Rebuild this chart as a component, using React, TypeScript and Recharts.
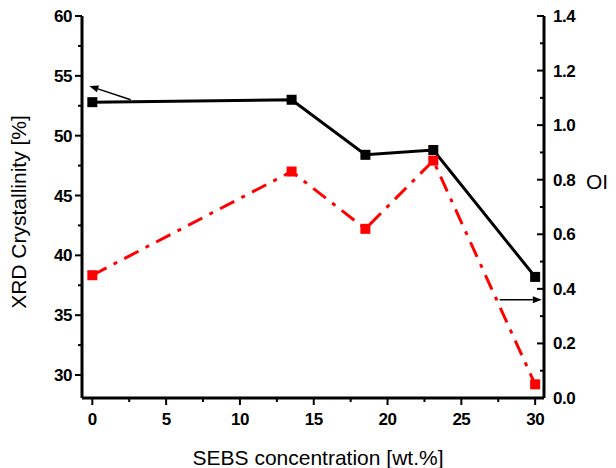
import { LineChart, Line, XAxis, YAxis, ReferenceLine } from "recharts";

// SEBS content [wt.%]
const sebs = [0, 13.5, 18.5, 23.1, 30];
// XRD crystallinity [%] (left axis)
const crystallinity = [52.8, 53.0, 48.4, 48.8, 38.2];
// OI (right axis)
const oi = [0.45, 0.83, 0.62, 0.87, 0.05];

const xTicks = [0, 2.5, 5, 7.5, 10, 12.5, 15, 17.5, 20, 22.5, 25, 27.5, 30];
const leftTicks = [30, 32.5, 35, 37.5, 40, 42.5, 45, 47.5, 50, 52.5, 55, 57.5, 60];
const rightTicks = [0, 0.1, 0.2, 0.3, 0.4, 0.5, 0.6, 0.7, 0.8, 0.9, 1.0, 1.1, 1.2, 1.3, 1.4];

const data = sebs.map((x, i) => ({ x, xrd: crystallinity[i], oi: oi[i] }));

const tickFont = {
  fontFamily: "'Liberation Sans', Arial, sans-serif",
  fontWeight: 700,
  fontSize: 17,
  letterSpacing: -0.5,
  fill: "#000",
};

const near = (v: number, step: number) => Math.abs(v / step - Math.round(v / step)) < 1e-6;

function BottomTick({ x, y, payload }: any) {
  const major = near(payload.value, 5);
  return (
    <g>
      <line x1={x} x2={x} y1={y} y2={y + (major ? 7 : 4)} stroke="#000" strokeWidth={2} />
      {major && (
        <text x={x} y={y + 27} textAnchor="middle" {...tickFont}>
          {payload.value}
        </text>
      )}
    </g>
  );
}

function LeftTick({ x, y, payload }: any) {
  const major = near(payload.value, 5);
  return (
    <g>
      <line x1={x - (major ? 7 : 4)} x2={x} y1={y} y2={y} stroke="#000" strokeWidth={2} />
      {major && (
        <text x={x - 10} y={y + 6} textAnchor="end" {...tickFont}>
          {payload.value}
        </text>
      )}
    </g>
  );
}

function RightTick({ x, y, payload }: any) {
  const major = near(payload.value, 0.2);
  return (
    <g>
      <line x1={x - (major ? 7 : 4)} x2={x} y1={y} y2={y} stroke="#000" strokeWidth={2} />
      {major && (
        <text x={x + 9} y={y + 6} textAnchor="start" {...tickFont}>
          {payload.value.toFixed(1)}
        </text>
      )}
    </g>
  );
}

function Square({ cx, cy, fill }: any) {
  if (cx == null || cy == null) return null;
  return <rect x={cx - 5} y={cy - 5} width={10} height={10} fill={fill} />;
}

function Arrow({ x1, y1, x2, y2 }: any) {
  const a = Math.atan2(y2 - y1, x2 - x1);
  const len = 9;
  const w = 3.5;
  const bx = x2 - len * Math.cos(a);
  const by = y2 - len * Math.sin(a);
  const px = -Math.sin(a) * w;
  const py = Math.cos(a) * w;
  return (
    <g>
      <line x1={x1} y1={y1} x2={bx} y2={by} stroke="#000" strokeWidth={1.5} />
      <polygon points={`${x2},${y2} ${bx + px},${by + py} ${bx - px},${by - py}`} fill="#000" />
    </g>
  );
}

const titleFont = {
  fontFamily: "'Liberation Sans', Arial, sans-serif",
  fontSize: 21,
  color: "#000",
  whiteSpace: "nowrap" as const,
  position: "absolute" as const,
  lineHeight: "21px",
};

export default function App() {
  return (
    <div style={{ position: "absolute", left: 0, top: 0, width: 616, height: 468, background: "#fff", overflow: "hidden" }}>
      <LineChart width={616} height={468} data={data} margin={{ top: 16, right: 22, bottom: 30, left: 22 }}>
        <XAxis
          dataKey="x"
          type="number"
          domain={[-0.7, 30.6]}
          ticks={xTicks}
          interval={0}
          height={40}
          tickLine={false}
          tickSize={0}
          tickMargin={0}
          axisLine={{ stroke: "#000", strokeWidth: 3 }}
          tick={(p: any) => <BottomTick {...p} />}
        />
        <YAxis
          yAxisId="left"
          orientation="left"
          type="number"
          domain={[28.08, 60]}
          ticks={leftTicks}
          interval={0}
          width={60}
          tickLine={false}
          tickSize={0}
          tickMargin={0}
          axisLine={{ stroke: "#000", strokeWidth: 3 }}
          tick={(p: any) => <LeftTick {...p} />}
        />
        <YAxis
          yAxisId="right"
          orientation="right"
          type="number"
          domain={[0, 1.4]}
          ticks={rightTicks}
          interval={0}
          width={50}
          tickLine={false}
          tickSize={0}
          tickMargin={0}
          axisLine={{ stroke: "#000", strokeWidth: 3 }}
          tick={(p: any) => <RightTick {...p} />}
        />
        <Line
          yAxisId="left"
          dataKey="xrd"
          type="linear"
          stroke="#000"
          strokeWidth={3}
          dot={(p: any) => <Square key={`b${p.index}`} {...p} fill="#000" />}
          activeDot={false}
          isAnimationActive={false}
        />
        <Line
          yAxisId="right"
          dataKey="oi"
          type="linear"
          stroke="#ff0000"
          strokeWidth={3}
          strokeDasharray="16 8 4 8"
          dot={(p: any) => <Square key={`r${p.index}`} {...p} fill="#ff0000" />}
          activeDot={false}
          isAnimationActive={false}
        />
        <ReferenceLine
          yAxisId="left"
          segment={[{ x: 2.6, y: 53.0 }, { x: -0.2, y: 54.15 }]}
          ifOverflow="visible"
          shape={(p: any) => <Arrow {...p} />}
        />
        <ReferenceLine
          yAxisId="right"
          segment={[{ x: 27.6, y: 0.36 }, { x: 30.45, y: 0.36 }]}
          ifOverflow="visible"
          shape={(p: any) => <Arrow {...p} />}
        />
      </LineChart>
      <div style={{ ...titleFont, left: 18, top: 212, transform: "translate(-50%, -50%) rotate(-90deg)" }}>
        XRD Crystallinity [%]
      </div>
      <div style={{ ...titleFont, left: 318, top: 457, transform: "translate(-50%, -50%)" }}>
        SEBS concentration [wt.%]
      </div>
      <div style={{ ...titleFont, left: 586, top: 171 }}>OI</div>
    </div>
  );
}
